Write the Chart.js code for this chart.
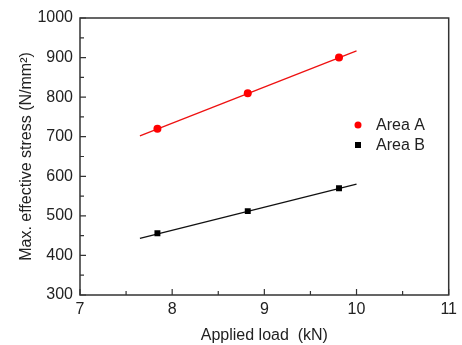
<!DOCTYPE html>
<html>
<head>
<meta charset="utf-8">
<script src="https://cdn.jsdelivr.net/npm/chart.js@4"></script>
<style>
  html, body { margin: 0; padding: 0; background: #fff; }
  #wrap { width: 462px; height: 345px; }
</style>
</head>
<body>
<div id="wrap"><canvas id="myChart" width="462" height="345"></canvas></div>
<script>
const loadA = [7.84, 8.82, 9.81];
const stressA = [720, 810, 900];
const loadB = [7.84, 8.82, 9.81];
const stressB = [456, 512, 570];
// fitted lines, end points
const fitLoad = [7.65, 10.0];
const fitA = [702, 917];
const fitB = [443, 580];
const xTicks = [7, 8, 9, 10, 11];
const yTicks = [300, 400, 500, 600, 700, 800, 900, 1000];

const FONT = '"Liberation Sans", Arial, sans-serif';
const pts = (xs, ys) => xs.map((x, i) => ({ x, y: ys[i] }));

const framePlugin = {
  id: 'frame',
  afterDraw(chart) {
    const { ctx, chartArea: a, scales: { x, y } } = chart;
    ctx.save();
    ctx.strokeStyle = '#333';
    ctx.lineWidth = 1.5;
    ctx.strokeRect(a.left, a.top, a.right - a.left, a.bottom - a.top);
    ctx.lineWidth = 1.2;
    ctx.beginPath();
    for (let v = 7; v <= 11.001; v += 0.5) {
      const px = x.getPixelForValue(v);
      const len = Number.isInteger(v) ? 6 : 4;
      ctx.moveTo(px, a.bottom);
      ctx.lineTo(px, a.bottom - len);
    }
    for (let v = 300; v <= 1000; v += 50) {
      const py = y.getPixelForValue(v);
      const len = v % 100 === 0 ? 6 : 4;
      ctx.moveTo(a.left, py);
      ctx.lineTo(a.left + len, py);
    }
    ctx.stroke();

    // legend
    const items = [chart.data.datasets[0], chart.data.datasets[1]];
    ctx.font = '16px ' + FONT;
    ctx.textBaseline = 'middle';
    items.forEach((d, i) => {
      const cy = 125 + i * 20;
      ctx.fillStyle = d.pointBackgroundColor;
      if (d.pointStyle === 'rect') {
        ctx.fillRect(355, cy - 3, 6, 6);
      } else {
        ctx.beginPath();
        ctx.arc(358, cy, 3.5, 0, Math.PI * 2);
        ctx.fill();
      }
      ctx.fillStyle = '#222';
      ctx.fillText(d.label, 376, cy + 1);
    });
    ctx.restore();
  }
};

new Chart(document.getElementById('myChart').getContext('2d'), {
  type: 'scatter',
  data: {
    datasets: [{
      label: 'Area A',
      data: pts(loadA, stressA),
      pointStyle: 'circle',
      pointRadius: 4,
      pointBackgroundColor: '#ff0000',
      pointBorderWidth: 0,
      showLine: false
    }, {
      label: 'Area B',
      data: pts(loadB, stressB),
      pointStyle: 'rect',
      pointRadius: 4.2,
      pointBackgroundColor: '#000000',
      pointBorderWidth: 0,
      showLine: false
    }, {
      label: 'fitA',
      data: pts(fitLoad, fitA),
      showLine: true,
      borderColor: '#ee1111',
      borderWidth: 1.3,
      pointRadius: 0
    }, {
      label: 'fitB',
      data: pts(fitLoad, fitB),
      showLine: true,
      borderColor: '#111111',
      borderWidth: 1.3,
      pointRadius: 0
    }]
  },
  options: {
    responsive: false,
    animation: false,
    layout: { padding: { left: 13, top: 18, right: 9, bottom: 0 } },
    plugins: { legend: { display: false }, tooltip: { enabled: false } },
    scales: {
      x: {
        type: 'linear', min: 7, max: 11,
        afterBuildTicks: s => { s.ticks = xTicks.map(v => ({ value: v })); },
        afterFit: s => { s.height = 50; },
        grid: { display: false, drawTicks: false },
        border: { display: false },
        ticks: { color: '#222', font: { family: FONT, size: 16 }, padding: 5, callback: v => String(v) },
        title: { display: true, text: 'Applied load  (kN)', color: '#222', font: { family: FONT, size: 16 }, padding: { top: 10, bottom: 0 } }
      },
      y: {
        type: 'linear', min: 300, max: 1000,
        afterBuildTicks: s => { s.ticks = yTicks.map(v => ({ value: v })); },
        afterFit: s => { s.width = 67; },
        grid: { display: false, drawTicks: false },
        border: { display: false },
        ticks: { color: '#222', font: { family: FONT, size: 16 }, padding: 7, callback: v => String(v) },
        title: { display: true, text: 'Max. effective stress (N/mm²)', color: '#222', font: { family: FONT, size: 16 }, padding: { bottom: 0 } }
      }
    }
  },
  plugins: [framePlugin]
});
</script>
</body>
</html>
